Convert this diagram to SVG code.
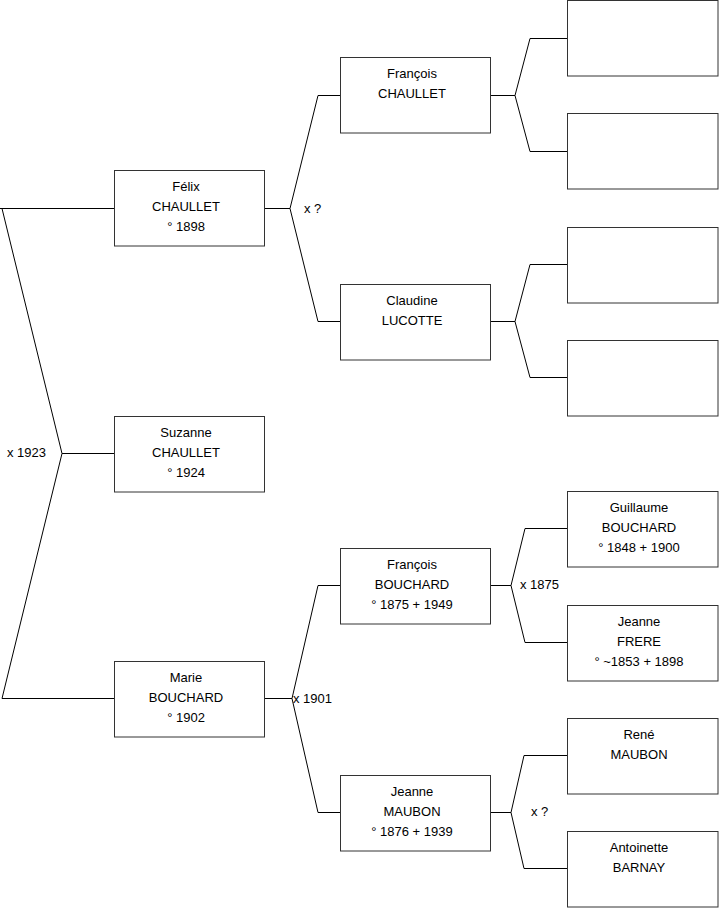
<svg xmlns="http://www.w3.org/2000/svg" width="719" height="908" viewBox="0 0 719 908">
<style>
.box{fill:#fff;stroke:#333;stroke-width:1}
.ln{fill:none;stroke:#000;stroke-width:1}
text{font-family:"Liberation Sans",Arial,sans-serif;font-size:13px;fill:#000}
.c{text-anchor:middle}
</style>
<rect width="719" height="908" fill="#fff"/>
<g id="connectors">
<polyline class="ln" points="0,208.5 114,208.5"/>
<polyline class="ln" points="2,208.5 62,453.5 2,698.5 114,698.5"/>
<polyline class="ln" points="62,453.5 114,453.5"/>
<polyline class="ln" points="265,208.5 290,208.5"/>
<polyline class="ln" points="340,95.5 318,95.5 290,208.5 318,321.5 340,321.5"/>
<polyline class="ln" points="491,95.5 515,95.5"/>
<polyline class="ln" points="567,38.5 530,38.5 515,95.5 530,151.5 567,151.5"/>
<polyline class="ln" points="491,321.5 515,321.5"/>
<polyline class="ln" points="567,264.5 530,264.5 515,321.5 530,377.5 567,377.5"/>
<polyline class="ln" points="265,698.5 292,698.5"/>
<polyline class="ln" points="340,585.5 318,585.5 292,698.5 318,812.5 340,812.5"/>
<polyline class="ln" points="491,585.5 511,585.5"/>
<polyline class="ln" points="567,528.5 525,528.5 511,585.5 525,642.5 567,642.5"/>
<polyline class="ln" points="491,812.5 511,812.5"/>
<polyline class="ln" points="567,755.5 524,755.5 511,812.5 524,868.5 567,868.5"/>
<text x="304" y="213">x ?</text>
<text x="7" y="457">x 1923</text>
<text x="293" y="703">x 1901</text>
<text x="520" y="589">x 1875</text>
<text x="531" y="816">x ?</text>
</g>
<g id="felix"><rect class="box" x="114.5" y="170.5" width="150" height="75.5"/><text class="c" x="186" y="191">Félix</text><text class="c" x="186" y="211">CHAULLET</text><text class="c" x="186" y="231">° 1898</text></g>
<g id="suzanne"><rect class="box" x="114.5" y="416.5" width="150" height="75.5"/><text class="c" x="186" y="437">Suzanne</text><text class="c" x="186" y="457">CHAULLET</text><text class="c" x="186" y="477">° 1924</text></g>
<g id="marie"><rect class="box" x="114.5" y="661.5" width="150" height="75.5"/><text class="c" x="186" y="682">Marie</text><text class="c" x="186" y="702">BOUCHARD</text><text class="c" x="186" y="722">° 1902</text></g>
<g id="francois-chaullet"><rect class="box" x="340.5" y="57.5" width="150" height="75.5"/><text class="c" x="412" y="78">François</text><text class="c" x="412" y="98">CHAULLET</text></g>
<g id="claudine"><rect class="box" x="340.5" y="284.5" width="150" height="75.5"/><text class="c" x="412" y="305">Claudine</text><text class="c" x="412" y="325">LUCOTTE</text></g>
<g id="francois-bouchard"><rect class="box" x="340.5" y="548.5" width="150" height="75.5"/><text class="c" x="412" y="569">François</text><text class="c" x="412" y="589">BOUCHARD</text><text class="c" x="412" y="609">° 1875 + 1949</text></g>
<g id="jeanne-maubon"><rect class="box" x="340.5" y="775.5" width="150" height="75.5"/><text class="c" x="412" y="796">Jeanne</text><text class="c" x="412" y="816">MAUBON</text><text class="c" x="412" y="836">° 1876 + 1939</text></g>
<g id="empty1"><rect class="box" x="567.5" y="0.5" width="150.5" height="75.5"/></g>
<g id="empty2"><rect class="box" x="567.5" y="113.5" width="150.5" height="75.5"/></g>
<g id="empty3"><rect class="box" x="567.5" y="227.5" width="150.5" height="75.5"/></g>
<g id="empty4"><rect class="box" x="567.5" y="340.5" width="150.5" height="75.5"/></g>
<g id="guillaume"><rect class="box" x="567.5" y="491.5" width="150.5" height="75.5"/><text class="c" x="639" y="512">Guillaume</text><text class="c" x="639" y="532">BOUCHARD</text><text class="c" x="639" y="552">° 1848 + 1900</text></g>
<g id="jeanne-frere"><rect class="box" x="567.5" y="605.5" width="150.5" height="75.5"/><text class="c" x="639" y="626">Jeanne</text><text class="c" x="639" y="646">FRERE</text><text class="c" x="639" y="666">° ~1853 + 1898</text></g>
<g id="rene"><rect class="box" x="567.5" y="718.5" width="150.5" height="75.5"/><text class="c" x="639" y="739">René</text><text class="c" x="639" y="759">MAUBON</text></g>
<g id="antoinette"><rect class="box" x="567.5" y="831.5" width="150.5" height="75.5"/><text class="c" x="639" y="852">Antoinette</text><text class="c" x="639" y="872">BARNAY</text></g>
</svg>
